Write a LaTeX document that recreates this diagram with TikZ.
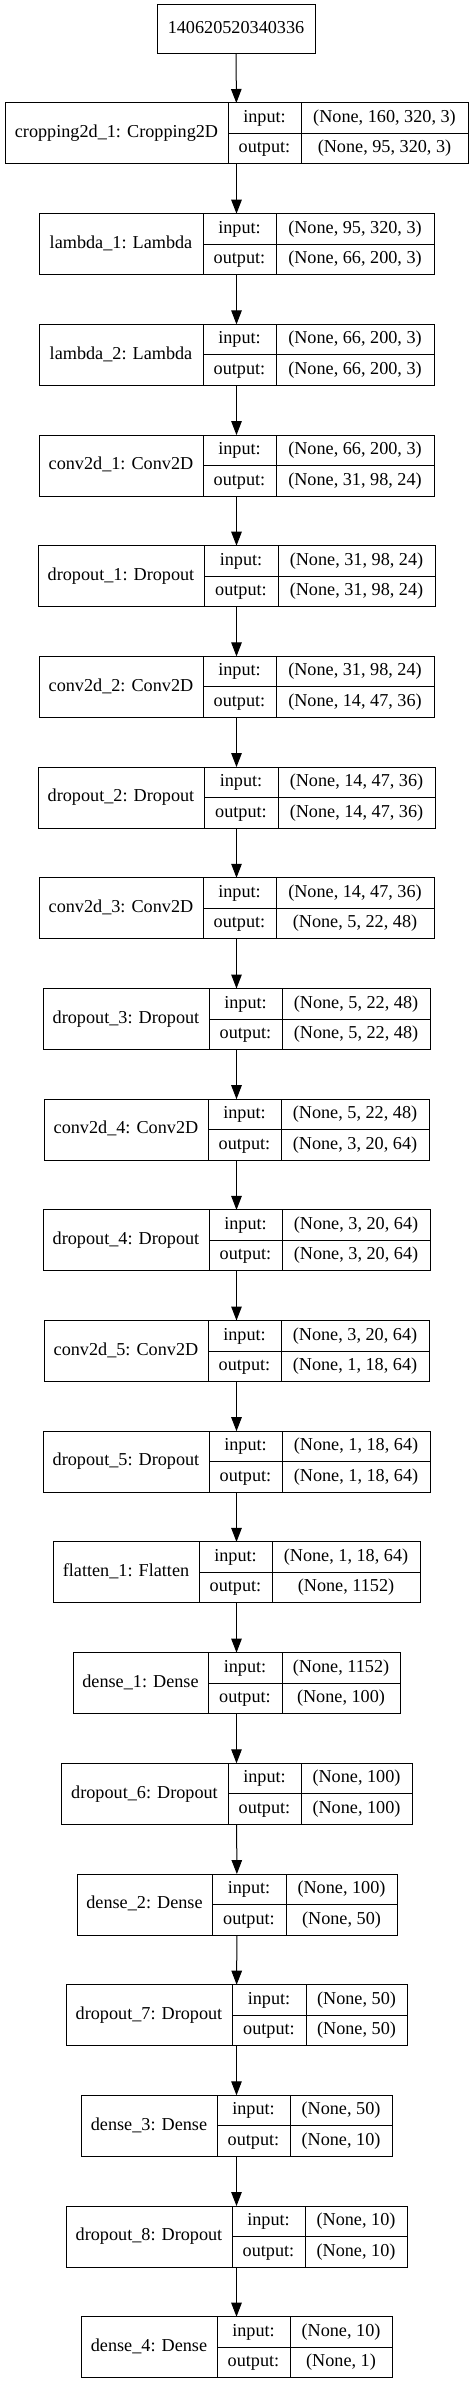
\documentclass[tikz,border=0pt]{standalone}
\usepackage{fontspec}
\setmainfont{Liberation Serif}
\usetikzlibrary{arrows.meta}

% one layer record: name, top, left, split1, split2, right, label, input, output
\newcommand{\layerrec}[9]{%
\node[frame, minimum width={(#6-#3)*1pt}] (#1) at (#3,#2) {};
\node[cell, minimum width={(#4-#3)*1pt}, minimum height=61pt] (#1-name) at (#3,#2) {#7};
\node[cell, minimum width={(#5-#4)*1pt}] (#1-il) at (#4,#2) {input:};
\node[cell, minimum width={(#5-#4)*1pt}] (#1-ol) at (#4,#2+30.5) {output:};
\node[cell, minimum width={(#6-#5)*1pt}] (#1-iv) at (#5,#2) {#8};
\node[cell, minimum width={(#6-#5)*1pt}] (#1-ov) at (#5,#2+30.5) {#9};
}

\begin{document}
\begin{tikzpicture}[x=1pt, y=-1pt, line width=1pt, font=\fontsize{18.2}{22}\selectfont,
  >={Triangle[length=14pt, width=10.5pt]},
  frame/.style = {draw, anchor=north west, minimum height=61pt, inner sep=0pt, outer sep=0pt},
  cell/.style = {draw, anchor=north west, minimum height=30.5pt, inner sep=0pt, outer sep=0pt, text height=12.5pt, text depth=4pt}]
\useasboundingbox (0,0) rectangle (473,2384);
\node[cell, minimum width=158pt, minimum height=48.7pt] (in) at (157,5) {140620520340336};
\layerrec{crop1}{103}{5}{228}{301}{468}{cropping2d\_1: Cropping2D}{(None, 160, 320, 3)}{(None, 95, 320, 3)}
\layerrec{lam1}{213.7}{39}{203}{276}{434}{lambda\_1: Lambda}{(None, 95, 320, 3)}{(None, 66, 200, 3)}
\layerrec{lam2}{324.4}{39}{203}{276}{434}{lambda\_2: Lambda}{(None, 66, 200, 3)}{(None, 66, 200, 3)}
\layerrec{conv1}{435.1}{39}{203}{276}{434}{conv2d\_1: Conv2D}{(None, 66, 200, 3)}{(None, 31, 98, 24)}
\layerrec{drop1}{545.7}{38}{204}{278}{435}{dropout\_1: Dropout}{(None, 31, 98, 24)}{(None, 31, 98, 24)}
\layerrec{conv2}{656.4}{39}{203}{276}{434}{conv2d\_2: Conv2D}{(None, 31, 98, 24)}{(None, 14, 47, 36)}
\layerrec{drop2}{767.1}{38}{204}{278}{435}{dropout\_2: Dropout}{(None, 14, 47, 36)}{(None, 14, 47, 36)}
\layerrec{conv3}{877.8}{39}{203}{276}{434}{conv2d\_3: Conv2D}{(None, 14, 47, 36)}{(None, 5, 22, 48)}
\layerrec{drop3}{988.5}{43}{209}{282}{430}{dropout\_3: Dropout}{(None, 5, 22, 48)}{(None, 5, 22, 48)}
\layerrec{conv4}{1099.2}{44}{208}{281}{429}{conv2d\_4: Conv2D}{(None, 5, 22, 48)}{(None, 3, 20, 64)}
\layerrec{drop4}{1209.9}{43}{209}{282}{430}{dropout\_4: Dropout}{(None, 3, 20, 64)}{(None, 3, 20, 64)}
\layerrec{conv5}{1320.5}{44}{208}{281}{429}{conv2d\_5: Conv2D}{(None, 3, 20, 64)}{(None, 1, 18, 64)}
\layerrec{drop5}{1431.2}{43}{209}{282}{430}{dropout\_5: Dropout}{(None, 1, 18, 64)}{(None, 1, 18, 64)}
\layerrec{flat1}{1541.9}{53}{199}{272}{420}{flatten\_1: Flatten}{(None, 1, 18, 64)}{(None, 1152)}
\layerrec{dense1}{1652.6}{73}{208}{282}{400}{dense\_1: Dense}{(None, 1152)}{(None, 100)}
\layerrec{drop6}{1763.3}{61}{228}{301}{412}{dropout\_6: Dropout}{(None, 100)}{(None, 100)}
\layerrec{dense2}{1874.0}{77}{212}{286}{397}{dense\_2: Dense}{(None, 100)}{(None, 50)}
\layerrec{drop7}{1984.7}{66}{232}{306}{407}{dropout\_7: Dropout}{(None, 50)}{(None, 50)}
\layerrec{dense3}{2095.3}{81}{217}{290}{392}{dense\_3: Dense}{(None, 50)}{(None, 10)}
\layerrec{drop8}{2206.0}{66}{232}{305}{407}{dropout\_8: Dropout}{(None, 10)}{(None, 10)}
\layerrec{dense4}{2316.7}{81}{217}{290}{392}{dense\_4: Dense}{(None, 10)}{(None, 1)}
\draw[->] (in) -- (crop1);
\draw[->] (crop1) -- (lam1);
\draw[->] (lam1) -- (lam2);
\draw[->] (lam2) -- (conv1);
\draw[->] (conv1) -- (drop1);
\draw[->] (drop1) -- (conv2);
\draw[->] (conv2) -- (drop2);
\draw[->] (drop2) -- (conv3);
\draw[->] (conv3) -- (drop3);
\draw[->] (drop3) -- (conv4);
\draw[->] (conv4) -- (drop4);
\draw[->] (drop4) -- (conv5);
\draw[->] (conv5) -- (drop5);
\draw[->] (drop5) -- (flat1);
\draw[->] (flat1) -- (dense1);
\draw[->] (dense1) -- (drop6);
\draw[->] (drop6) -- (dense2);
\draw[->] (dense2) -- (drop7);
\draw[->] (drop7) -- (dense3);
\draw[->] (dense3) -- (drop8);
\draw[->] (drop8) -- (dense4);
\end{tikzpicture}
\end{document}
